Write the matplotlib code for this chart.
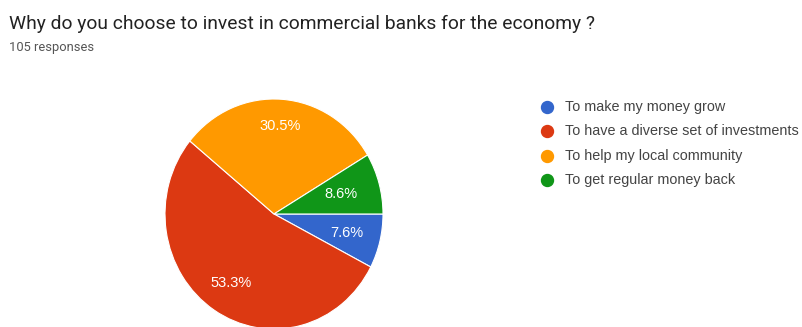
import matplotlib
matplotlib.use('Agg')
import matplotlib.pyplot as plt
import numpy as np

# survey answers
labels = ["To make my money grow", "To have a diverse set of investments",
          "To help my local community", "To get regular money back"]
counts = [8, 56, 32, 9]
colors = ["#3366cc", "#dc3912", "#ff9900", "#109618"]
# radial position of the percentage text inside each slice
label_r = [0.69, 0.72, 0.77, 0.64]

W, H = 803, 327
fig = plt.figure(figsize=(W / 100, H / 100), dpi=100)

fig.text(9 / W, 1 - 24 / H, "Why do you choose to invest in commercial banks for the economy ?",
         fontsize=13.9, family="Roboto", color="#222222", va="center")
fig.text(9 / W, 1 - 48 / H, "105 responses", fontsize=9.3, family="Roboto",
         color="#555555", va="center")

# pie, centre at (274, 214) px, slightly taller than wide
ax = fig.add_axes([165 / W, 1 - 329 / H, 218 / W, 230 / H])
wedges, _ = ax.pie(counts, colors=colors, startangle=0, counterclock=False,
                   wedgeprops=dict(edgecolor="white", linewidth=0.8))
ax.set_xlim(-1, 1)
ax.set_ylim(-1, 1)
ax.set_aspect("auto")
ax.axis("off")

total = sum(counts)
for w, c, r in zip(wedges, counts, label_r):
    mid = np.deg2rad((w.theta1 + w.theta2) / 2)
    ax.text(r * np.cos(mid), r * np.sin(mid), f"{100 * c / total:.1f}%",
            ha="center", va="center", color="white", fontsize=10.5, family="Liberation Sans")

# legend
for i, (lab, col) in enumerate(zip(labels, colors)):
    y = 1 - (107 + 24.3 * i) / H
    fig.add_artist(matplotlib.lines.Line2D([547 / W], [y], marker="o", markersize=8.6,
                                           color=col, linestyle="none"))
    fig.text(565 / W, y, lab, fontsize=10.4, family="Liberation Sans", color="#444444", va="center")

plt.savefig("out.png", dpi=100)
plt.close()
